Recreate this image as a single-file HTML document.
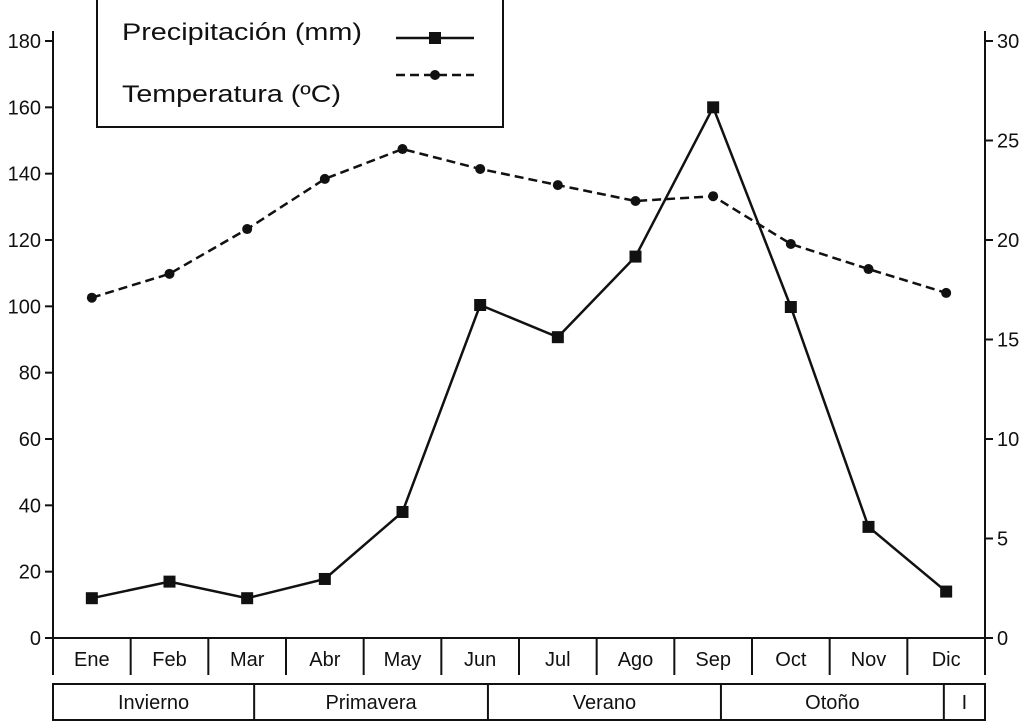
<!DOCTYPE html>
<html><head><meta charset="utf-8"><style>
html,body{margin:0;padding:0;background:#fff;}
svg{display:block;font-family:"Liberation Sans",sans-serif;}
</style></head><body>
<svg id="chart" width="1024" height="722" viewBox="0 0 1024 722"></svg>
<script>
const months=["Ene","Feb","Mar","Abr","May","Jun","Jul","Ago","Sep","Oct","Nov","Dic"];
const precip=[12,17,12,17.8,38,100.4,90.7,115,160,99.8,33.5,14];
const temp=[17.1,18.3,20.55,23.07,24.57,23.57,22.76,21.96,22.2,19.8,18.54,17.34];
const leftTicks=[0,20,40,60,80,100,120,140,160,180];
const rightTicks=[0,5,10,15,20,25,30];
const seasons=["Invierno","Primavera","Verano","Otoño","I"];
const seasonBounds=[0,2.59,5.6,8.6,11.47,12];

const NS="http://www.w3.org/2000/svg";
const svg=document.getElementById('chart');
const X0=53,X1=985,Y0=638,Y1=41;
const cw=(X1-X0)/12;
const xC=i=>X0+cw*(i+0.5);
const yL=v=>Y0-(v/180)*(Y0-Y1);
const yR=v=>Y0-(v/30)*(Y0-Y1);
function mk(t,a,txt){const e=document.createElementNS(NS,t);for(const k in a)e.setAttribute(k,a[k]);if(txt!==undefined)e.textContent=txt;svg.appendChild(e);return e;}
const S={stroke:"#111","stroke-width":2,fill:"none"};
const L={stroke:"#111","stroke-width":2.5,fill:"none"};

let e=mk('line',{x1:X0,y1:Y1-10,x2:X0,y2:Y0,...S});

e=mk('line',{x1:X1,y1:Y1-10,x2:X1,y2:Y0,...S});


leftTicks.forEach(v=>{
  e=mk('line',{x1:X0-8,y1:yL(v),x2:X0,y2:yL(v),...S});
  
  e=mk('text',{x:X0-12,y:yL(v)+7,"text-anchor":"end","font-size":20,fill:"#111"},String(v));
  
});
rightTicks.forEach(v=>{
  e=mk('line',{x1:X1,y1:yR(v),x2:X1+8,y2:yR(v),...S});
  
  e=mk('text',{x:X1+12,y:yR(v)+7,"text-anchor":"start","font-size":20,fill:"#111"},String(v));
  
});

e=mk('line',{x1:X0,y1:Y0,x2:X1,y2:Y0,...S});

for(let i=0;i<=12;i++){
  e=mk('line',{x1:X0+cw*i,y1:Y0,x2:X0+cw*i,y2:675,...S});
  
}
months.forEach((m,i)=>{
  e=mk('text',{x:xC(i),y:666,"text-anchor":"middle","font-size":20,fill:"#111"},m);
  
});

e=mk('rect',{x:X0,y:684,width:X1-X0,height:36,...S});

seasons.forEach((s,i)=>{
  const a=X0+cw*seasonBounds[i],b=X0+cw*seasonBounds[i+1];
  if(i>0){e=mk('line',{x1:a,y1:684,x2:a,y2:720,...S});
  }
  e=mk('text',{x:(a+b)/2,y:709,"text-anchor":"middle","font-size":20,fill:"#111"},s);
  
});

e=mk('polyline',{points:temp.map((v,i)=>xC(i)+","+yR(v)).join(" "),...L,"stroke-dasharray":"9,5"});

temp.forEach((v,i)=>{
  e=mk('circle',{cx:xC(i),cy:yR(v),r:5,fill:"#111"});
  
});
e=mk('polyline',{points:precip.map((v,i)=>xC(i)+","+yL(v)).join(" "),...L});

precip.forEach((v,i)=>{
  e=mk('rect',{x:xC(i)-6,y:yL(v)-6,width:12,height:12,fill:"#111"});
  
});

e=mk('rect',{x:97,y:-2,width:406,height:129,fill:"#fff",stroke:"#111","stroke-width":2});

e=mk('text',{x:122,y:40,"font-size":24,fill:"#111",textLength:240,lengthAdjust:"spacingAndGlyphs"},"Precipitación (mm)");

e=mk('text',{x:122,y:102,"font-size":24,fill:"#111",textLength:219,lengthAdjust:"spacingAndGlyphs"},"Temperatura (ºC)");

e=mk('line',{x1:396,y1:38,x2:474,y2:38,...L});

e=mk('rect',{x:429,y:32,width:12,height:12,fill:"#111"});

e=mk('line',{x1:396,y1:75,x2:474,y2:75,...L,"stroke-dasharray":"9,5"});

e=mk('circle',{cx:435,cy:75,r:5,fill:"#111"});

</script>
</body></html>
